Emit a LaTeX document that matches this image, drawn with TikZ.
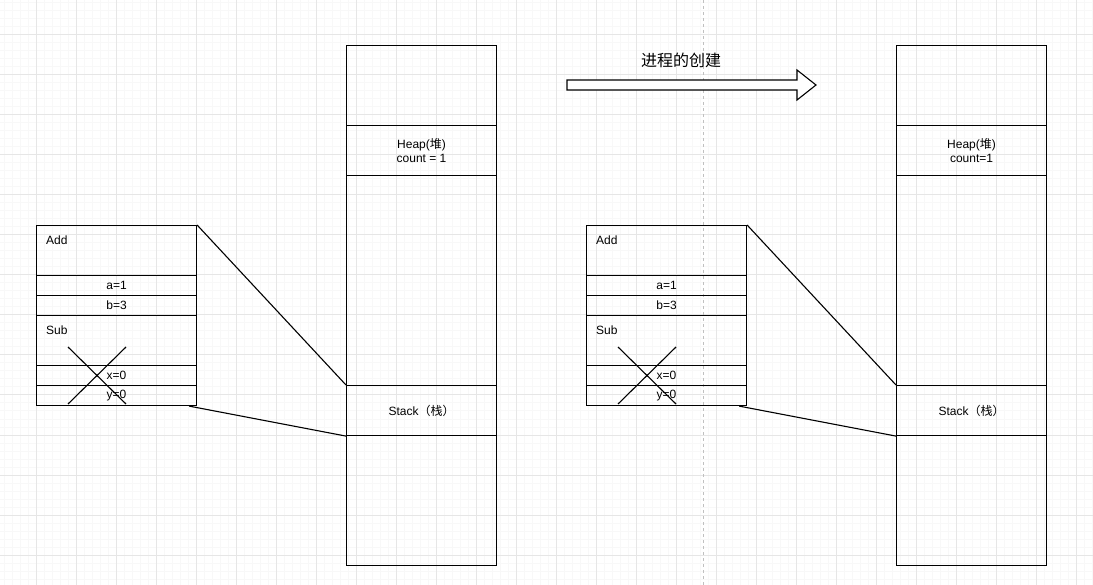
\documentclass[tikz,border=0pt]{standalone}
\usepackage{fontspec}
\setmainfont{Liberation Sans}
\newfontfamily\cjk{Noto Sans CJK SC}
\definecolor{minorgrid}{HTML}{F8F8F8}
\definecolor{majorgrid}{HTML}{E6E6E6}
\definecolor{pagebreak}{HTML}{C0C0C0}
\tikzset{
  cell/.style={draw, line width=1.1pt, inner sep=0pt, anchor=north west, font=\fontsize{12}{14}\selectfont},
  bigcell/.style={cell, minimum width=150pt},
  framecell/.style={cell, minimum width=160pt},
  tag/.style={anchor=west, inner sep=0pt, font=\fontsize{12}{14}\selectfont},
  link/.style={line width=1.1pt},
  cross/.style={line width=1.1pt},
}
\begin{document}
\begin{tikzpicture}[x=1pt,y=-1pt]
\useasboundingbox (0,0) rectangle (1093,585);
\fill[white] (0,0) rectangle (1093,585);
% grid
\foreach \gx in {4,12,...,1092} \draw[minorgrid, line width=1pt] (\gx,0) -- (\gx,585);
\foreach \gy in {3,11,...,584} \draw[minorgrid, line width=1pt] (0,\gy) -- (1093,\gy);
\foreach \gx in {36,76,...,1092} \draw[majorgrid, line width=1pt] (\gx,0) -- (\gx,585);
\foreach \gy in {35,75,...,584} \draw[majorgrid, line width=1pt] (0,\gy) -- (1093,\gy);
\draw[pagebreak, line width=1pt, dash pattern=on 3pt off 3pt] (703,0) -- (703,585);

% ---------- left memory column ----------
\node[bigcell, minimum height=80pt] (ltop) at (346,45) {};
\node[bigcell, minimum height=50pt, align=center] (lheap) at (346,125) {Heap({\cjk 堆})\\count = 1};
\node[bigcell, minimum height=210pt] (lmid) at (346,175) {};
\node[bigcell, minimum height=50pt] (lstk) at (346,385) {Stack{\cjk （栈）}};
\node[bigcell, minimum height=130pt] (lbot) at (346,435) {};

% left frame
\node[framecell, minimum height=50pt] (ladd) at (36,225) {};
\node[framecell, minimum height=20pt] (la) at (36,275) {a=1};
\node[framecell, minimum height=20pt] (lb) at (36,295) {b=3};
\node[framecell, minimum height=50pt] (lsub) at (36,315) {};
\node[framecell, minimum height=20pt] (lx) at (36,365) {x=0};
\node[framecell, minimum height=20pt] (ly) at (36,385) {y=0};
\node[tag] (laddt) at ([xshift=10pt,yshift=-15pt]ladd.north west) {Add};
\node[tag] (lsubt) at ([xshift=10pt,yshift=-15pt]lsub.north west) {Sub};
\coordinate (lc1) at (68,347);
\coordinate (lc2) at (126,404);
\coordinate (lc3) at (68,404);
\coordinate (lc4) at (126,347);
\draw[cross] (lc1) -- (lc2);
\draw[cross] (lc3) -- (lc4);
\draw[link] (ladd.north east) -- (lstk.north west);
\draw[link] ([xshift=-8pt]ly.south east) -- (lstk.south west);

% ---------- arrow ----------
\node[inner sep=0pt, font=\cjk\fontsize{16}{18}\selectfont] (title) at (681,60) {进程的创建};
\draw[line width=1.1pt, fill=white] (567,80) -- (797,80) -- (797,70) -- (816,85) -- (797,100) -- (797,90) -- (567,90) -- cycle;

% ---------- right memory column ----------
\node[bigcell, minimum height=80pt] (rtop) at (896,45) {};
\node[bigcell, minimum height=50pt, align=center] (rheap) at (896,125) {Heap({\cjk 堆})\\count=1};
\node[bigcell, minimum height=210pt] (rmid) at (896,175) {};
\node[bigcell, minimum height=50pt] (rstk) at (896,385) {Stack{\cjk （栈）}};
\node[bigcell, minimum height=130pt] (rbot) at (896,435) {};

% right frame
\node[framecell, minimum height=50pt] (radd) at (586,225) {};
\node[framecell, minimum height=20pt] (ra) at (586,275) {a=1};
\node[framecell, minimum height=20pt] (rb) at (586,295) {b=3};
\node[framecell, minimum height=50pt] (rsub) at (586,315) {};
\node[framecell, minimum height=20pt] (rx) at (586,365) {x=0};
\node[framecell, minimum height=20pt] (ry) at (586,385) {y=0};
\node[tag] (raddt) at ([xshift=10pt,yshift=-15pt]radd.north west) {Add};
\node[tag] (rsubt) at ([xshift=10pt,yshift=-15pt]rsub.north west) {Sub};
\coordinate (rc1) at (618,347);
\coordinate (rc2) at (676,404);
\coordinate (rc3) at (618,404);
\coordinate (rc4) at (676,347);
\draw[cross] (rc1) -- (rc2);
\draw[cross] (rc3) -- (rc4);
\draw[link] (radd.north east) -- (rstk.north west);
\draw[link] ([xshift=-8pt]ry.south east) -- (rstk.south west);
\end{tikzpicture}
\end{document}
